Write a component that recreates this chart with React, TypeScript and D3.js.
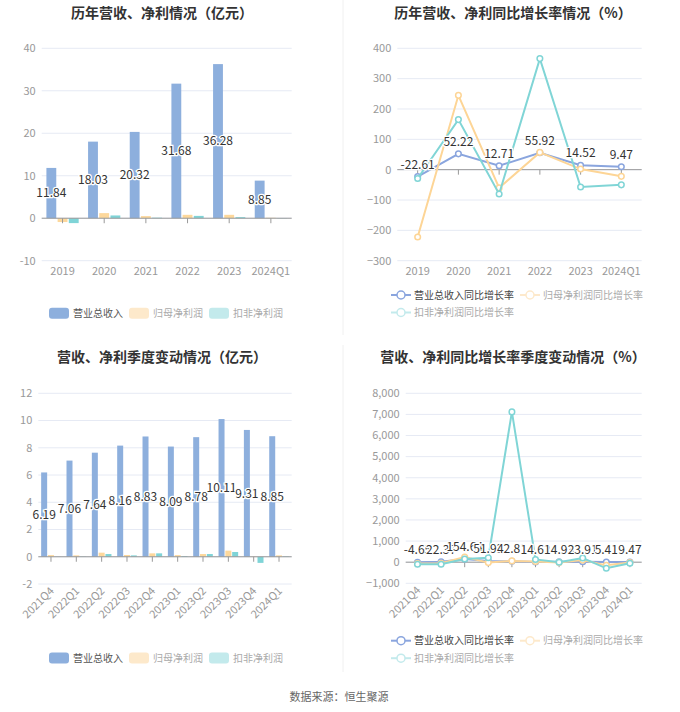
import * as d3 from "d3";

// 年度数据（亿元）
const years = ["2019", "2020", "2021", "2022", "2023", "2024Q1"];
const revenue = [11.84, 18.03, 20.32, 31.68, 36.28, 8.85];
const netProfit = [-0.9, 1.2, 0.5, 0.8, 0.8, 0.1];
const deductedProfit = [-1.15, 0.65, 0.12, 0.55, 0.25, 0.05];

// 年度同比（%）
const revenueYoY = [-22.61, 52.22, 12.71, 55.92, 14.52, 9.47];
const netProfitYoY = [-222, 245, -60, 57, 2, -22];
const deductedYoY = [-29, 165, -80, 366, -57, -50];

// 季度数据（亿元）
const quarters = ["2021Q4", "2022Q1", "2022Q2", "2022Q3", "2022Q4", "2023Q1", "2023Q2", "2023Q3", "2023Q4", "2024Q1"];
const qRevenue = [6.19, 7.06, 7.64, 8.16, 8.83, 8.09, 8.78, 10.11, 9.31, 8.85];
const qNetProfit = [0.12, 0.1, 0.3, 0.13, 0.25, 0.12, 0.2, 0.45, -0.02, 0.1];
const qDeducted = [0.01, 0.02, 0.2, 0.1, 0.25, 0.05, 0.2, 0.35, -0.45, 0.03];

// 季度同比（%）
const qRevenueYoY = [-4.65, 22.37, 154.64, 51.93, 42.81, 14.62, 14.93, 23.91, 5.41, 9.47];
const qNetProfitYoY = [-60, -50, 240, -20, 60, 30, -10, 100, -150, -20];
const qDeductedYoY = [-100, -100, 150, 210, 7120, 130, 0, 200, -290, -50];

const barNames = ["营业总收入", "归母净利润", "扣非净利润"];
const lineNames = ["营业总收入同比增长率", "归母净利润同比增长率", "扣非净利润同比增长率"];

const BAR_COLORS = ["#8dafdd", "#fdd89c", "#7fd4d7"];
const LINE_COLORS = ["#8aa5de", "#fdd596", "#80d5d6"];
const PALE = ["#8dafdd", "#fde9cb", "#c3eaec"];

const FONT = "'Noto Sans CJK SC', 'Noto Sans', sans-serif";

type BarProps = {
  cats: string[];
  series: number[][];
  domain: [number, number];
  tickCount: number;
  left: number;
  right: number;
  top: number;
  bottom: number;
  rotate?: boolean;
  legendY: number;
};

const BarPanel = ({ cats, series, domain, tickCount, left, right, top, bottom, rotate, legendY }: BarProps) => {
  const y = d3.scaleLinear().domain(domain).range([bottom, top]);
  const x = d3.scaleBand<string>().domain(cats).range([left, right]);
  const inner = d3
    .scaleBand<number>()
    .domain([0, 1, 2])
    .range([0, x.bandwidth()])
    .paddingInner(0.12)
    .paddingOuter(0.42);
  const ticks = y.ticks(tickCount);
  const y0 = y(0);
  const legendX = [49, 129, 209];

  return (
    <g>
      {ticks.map((t) => (
        <g key={t}>
          <line x1={left} x2={right} y1={y(t)} y2={y(t)} stroke="#e6eaf4" />
          <text x={left - 6} y={y(t)} dy="0.35em" textAnchor="end" fontSize={11} fill="#999">
            {t}
          </text>
        </g>
      ))}
      {series.map((vals, si) =>
        vals.map((v, i) => (
          <rect
            key={`${si}-${i}`}
            x={x(cats[i])! + inner(si)!}
            width={inner.bandwidth()}
            y={Math.min(y(v), y0)}
            height={Math.abs(y(v) - y0)}
            fill={BAR_COLORS[si]}
          />
        ))
      )}
      <line x1={left} x2={right} y1={y0} y2={y0} stroke="#999" />
      {cats.map((c) => (
        <line key={c} x1={x(c)! + x.bandwidth() / 2} x2={x(c)! + x.bandwidth() / 2} y1={y0} y2={y0 + 5} stroke="#999" />
      ))}
      {series[0].map((v, i) => (
        <text
          key={i}
          x={x(cats[i])! + inner(0)! + inner.bandwidth() / 2}
          y={y(v / 2)}
          dy="0.35em"
          textAnchor="middle"
          fontSize={12}
          fill="#333"
          stroke="#fff"
          strokeWidth={2.5}
          paintOrder="stroke"
        >
          {v.toFixed(2)}
        </text>
      ))}
      {cats.map((c) =>
        rotate ? (
          <text
            key={c}
            transform={`translate(${x(c)! + x.bandwidth() / 2 + 1},${bottom + 5}) rotate(-45)`}
            textAnchor="end"
            dy="0.35em"
            fontSize={11}
            fill="#999"
          >
            {c}
          </text>
        ) : (
          <text key={c} x={x(c)! + x.bandwidth() / 2} y={bottom + 10} dy="0.35em" textAnchor="middle" fontSize={11} fill="#999">
            {c}
          </text>
        )
      )}
      {barNames.map((n, i) => (
        <g key={n}>
          <rect x={legendX[i]} y={legendY - 5.5} width={20} height={11} rx={3} fill={PALE[i]} />
          <text x={legendX[i] + 24} y={legendY} dy="0.35em" fontSize={10} fill={i === 0 ? "#555" : "#aaa"}>
            {n}
          </text>
        </g>
      ))}
    </g>
  );
};

type LineProps = {
  cats: string[];
  series: number[][];
  domain: [number, number];
  tickCount: number;
  left: number;
  right: number;
  top: number;
  bottom: number;
  rotate?: boolean;
  legendY: number;
};

const LinePanel = ({ cats, series, domain, tickCount, left, right, top, bottom, rotate, legendY }: LineProps) => {
  const y = d3.scaleLinear().domain(domain).range([bottom, top]);
  const x = d3.scaleBand<string>().domain(cats).range([left, right]);
  const cx = (i: number) => x(cats[i])! + x.bandwidth() / 2;
  const ticks = y.ticks(tickCount);
  const fmt = d3.format(",");
  const y0 = y(0);
  const line = d3
    .line<number>()
    .x((_, i) => cx(i))
    .y((d) => y(d));
  const legendPos = [
    [391, legendY],
    [520, legendY],
    [391, legendY + 17.5],
  ];

  return (
    <g>
      {ticks.map((t) => (
        <g key={t}>
          <line x1={left} x2={right} y1={y(t)} y2={y(t)} stroke="#e6eaf4" />
          <text x={left - 6} y={y(t)} dy="0.35em" textAnchor="end" fontSize={11} fill="#999">
            {fmt(t)}
          </text>
        </g>
      ))}
      <line x1={left} x2={right} y1={y0} y2={y0} stroke="#999" />
      {cats.map((c, i) => (
        <line key={c} x1={cx(i)} x2={cx(i)} y1={y0} y2={y0 + 5} stroke="#999" />
      ))}
      {series.map((vals, si) => (
        <g key={si}>
          <path d={line(vals)!} fill="none" stroke={LINE_COLORS[si]} strokeWidth={2} />
          {vals.map((v, i) => (
            <circle key={i} cx={cx(i)} cy={y(v)} r={2.8} fill="#fff" stroke={LINE_COLORS[si]} strokeWidth={1.5} />
          ))}
        </g>
      ))}
      {series[0].map((v, i) => (
        <text
          key={i}
          x={cx(i)}
          y={y(v) - 12}
          dy="0.35em"
          textAnchor="middle"
          fontSize={12}
          fill="#333"
          stroke="#fff"
          strokeWidth={2.5}
          paintOrder="stroke"
        >
          {v.toFixed(2)}
        </text>
      ))}
      {cats.map((c, i) =>
        rotate ? (
          <text
            key={c}
            transform={`translate(${cx(i) + 1},${bottom + 5}) rotate(-45)`}
            textAnchor="end"
            dy="0.35em"
            fontSize={11}
            fill="#999"
          >
            {c}
          </text>
        ) : (
          <text key={c} x={cx(i)} y={bottom + 10} dy="0.35em" textAnchor="middle" fontSize={11} fill="#999">
            {c}
          </text>
        )
      )}
      {lineNames.map((n, i) => {
        const [lx, ly] = legendPos[i];
        const col = i === 0 ? LINE_COLORS[0] : PALE[i];
        return (
          <g key={n}>
            <line x1={lx} x2={lx + 20} y1={ly} y2={ly} stroke={col} strokeWidth={2} />
            <circle cx={lx + 10} cy={ly} r={4} fill="#fff" stroke={col} strokeWidth={1.5} />
            <text x={lx + 23} y={ly} dy="0.35em" fontSize={10} fill={i === 0 ? "#444" : "#aaa"}>
              {n}
            </text>
          </g>
        );
      })}
    </g>
  );
};

export default function App() {
  return (
    <svg
      width={680}
      height={712}
      style={{ position: "absolute", left: 0, top: 0, background: "#fff" }}
      fontFamily={FONT}
    >
      <line x1={343} x2={343} y1={0} y2={335} stroke="#f0f0f0" />
      <line x1={343} x2={343} y1={345} y2={672} stroke="#f0f0f0" />

      <g fontWeight="bold" fontSize={14} fill="#333" textAnchor="middle">
        <text x={162} y={13} dy="0.35em">历年营收、净利情况（亿元）</text>
        <text x={513} y={13} dy="0.35em">历年营收、净利同比增长率情况（%）</text>
        <text x={162} y={357} dy="0.35em">营收、净利季度变动情况（亿元）</text>
        <text x={513} y={357} dy="0.35em">营收、净利同比增长率季度变动情况（%）</text>
      </g>

      <BarPanel
        cats={years}
        series={[revenue, netProfit, deductedProfit]}
        domain={[-10, 40]}
        tickCount={5}
        left={41.7}
        right={291.7}
        top={48.3}
        bottom={260.7}
        legendY={313.3}
      />
      <LinePanel
        cats={years}
        series={[revenueYoY, netProfitYoY, deductedYoY]}
        domain={[-300, 400]}
        tickCount={7}
        left={397.3}
        right={641.7}
        top={48.3}
        bottom={260.7}
        legendY={295}
      />
      <BarPanel
        cats={quarters}
        series={[qRevenue, qNetProfit, qDeducted]}
        domain={[-2, 12]}
        tickCount={7}
        left={38.3}
        right={291.7}
        top={393.3}
        bottom={584}
        rotate
        legendY={658}
      />
      <LinePanel
        cats={quarters}
        series={[qRevenueYoY, qNetProfitYoY, qDeductedYoY]}
        domain={[-1000, 8000]}
        tickCount={9}
        left={405.7}
        right={641.7}
        top={393.3}
        bottom={583.3}
        rotate
        legendY={640.7}
      />

      <text x={339} y={697} dy="0.35em" textAnchor="middle" fontSize={11} fill="#666">
        数据来源：恒生聚源
      </text>
    </svg>
  );
}
